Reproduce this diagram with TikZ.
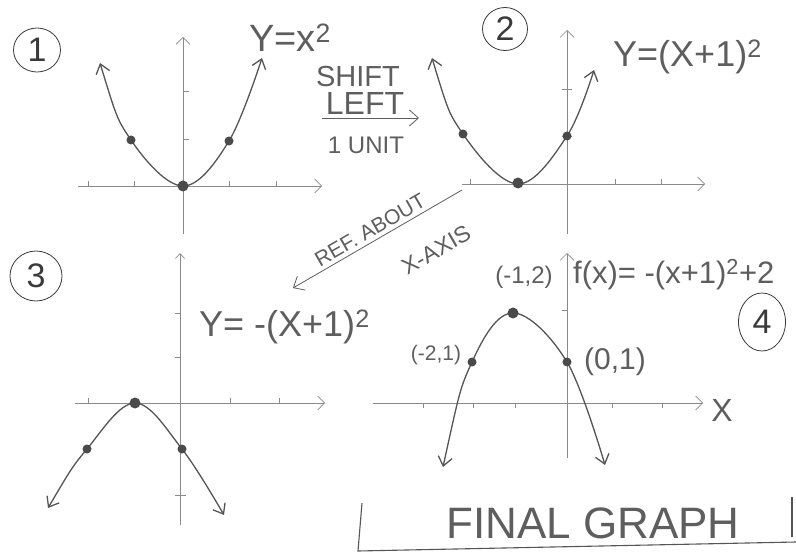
\documentclass[tikz,border=0pt]{standalone}
\usepackage{fontspec}
\setmainfont{Liberation Sans}
\usetikzlibrary{arrows.meta,shapes.geometric}
\definecolor{axisgray}{HTML}{8A8A8A}
\definecolor{curvegray}{HTML}{555555}
\definecolor{dotgray}{HTML}{4A4A4A}
\definecolor{textgray}{HTML}{5E5E5E}
\definecolor{numgray}{HTML}{3A3A3A}
\begin{document}
\begin{tikzpicture}[x=1pt,y=-1pt,
  axis/.style={draw=axisgray, line width=0.7pt},
  axarrow/.style={axis, -{Straight Barb[length=7pt,width=14pt]}},
  curve/.style={draw=curvegray, line width=1.3pt, line join=round,
    {Straight Barb[length=9pt,width=14pt]}-{Straight Barb[length=9pt,width=14pt]}},
  dot/.style={circle, fill=dotgray, inner sep=0pt, minimum size=9pt},
  bigdot/.style={dot, minimum size=11pt},
  lbl/.style={text=textgray, inner sep=0pt},
  numbox/.style={ellipse, draw=numgray, line width=0.8pt, inner sep=0pt, text=numgray, font=\fontsize{34}{34}\selectfont},
  note/.style={draw=textgray, line width=0.8pt},
  notearrow/.style={note, -{Straight Barb[length=9pt,width=16pt]}}
]
\fill[white] (0,0) rectangle (796,556);
\useasboundingbox (0,0) rectangle (796,556);

% ---------- Graph 1 ----------
\coordinate (g1xl) at (78,186); \coordinate (g1xr) at (322,186);
\coordinate (g1yb) at (183,234); \coordinate (g1yt) at (183,37);
\draw[axarrow] (g1xl) -- (g1xr);
\draw[axarrow] (g1yb) -- (g1yt);
\foreach \t in {88,134,229,276} \draw[axis] (\t,186) -- ++(0,-5);
\foreach \t in {91,139} \draw[axis] (183,\t) -- ++(6,0);
\draw[curve] plot[smooth, tension=0.6] coordinates {(100,63) (131,140) (183,186) (229,141) (262,58)};
\node[bigdot] (g1v) at (183,186) {};
\node[dot] (g1a) at (131,140) {};
\node[dot] (g1b) at (229,141) {};
\node[lbl, anchor=base west, font=\fontsize{38}{38}\selectfont] (eq1) at (249,52) {Y=x\textsuperscript{2}};
\node[numbox, minimum width=47pt, minimum height=44pt] (n1) at (37,50) {1};

% ---------- Graph 2 ----------
\coordinate (g2xl) at (462,184); \coordinate (g2xr) at (705,184);
\coordinate (g2yb) at (567,234); \coordinate (g2yt) at (567,30);
\draw[axarrow] (g2xl) -- (g2xr);
\draw[axarrow] (g2yb) -- (g2yt);
\foreach \t in {470,615,661} \draw[axis] (\t,184) -- ++(0,-5);
\foreach \t in {89,136} \draw[axis] (562,\t) -- ++(10,0);
\draw[curve] plot[smooth, tension=0.6] coordinates {(432,58) (463,134) (518,184) (567,136) (594,70)};
\node[dot] (g2a) at (463,134) {};
\node[bigdot] (g2v) at (518,183) {};
\node[dot] (g2b) at (567,136) {};
\node[lbl, anchor=base west, font=\fontsize{36}{36}\selectfont] (eq2) at (613,67) {Y=(X+1)\textsuperscript{2}};
\node[numbox, minimum width=45pt, minimum height=43pt] (n2) at (505,29) {2};

% ---------- Shift note ----------
\node[lbl, font=\fontsize{29}{29}\selectfont] (s1) at (358,77) {SHIFT};
\node[lbl, font=\fontsize{32}{32}\selectfont] (s2) at (365,103) {LEFT};
\node[lbl, font=\fontsize{24}{24}\selectfont] (s3) at (366,145) {1 UNIT};
\coordinate (sa) at (322,118); \coordinate (sb) at (419,118);
\draw[notearrow] (sa) -- (sb);

% ---------- Reflect note ----------
\coordinate (ra) at (462,190); \coordinate (rb) at (293,288);
\draw[notearrow] (ra) -- (rb);
\node[lbl, rotate=30, font=\fontsize{21}{21}\selectfont] (r1) at (370,230) {REF. ABOUT};
\node[lbl, rotate=30, font=\fontsize{23}{23}\selectfont] (r2) at (436,250) {X-AXIS};

% ---------- Graph 3 ----------
\coordinate (g3xl) at (75,403); \coordinate (g3xr) at (325,403);
\coordinate (g3yb) at (180,525); \coordinate (g3yt) at (180,253);
\draw[axarrow] (g3xl) -- (g3xr);
\draw[axis, -{Straight Barb[length=5pt,width=9pt]}] (g3yb) -- (g3yt);
\foreach \t in {88,230,279} \draw[axis] (\t,403) -- ++(0,-5);
\foreach \t in {313,357} \draw[axis] (180,\t) -- ++(-5,0);
\draw[axis, line width=1pt] (175,495) -- (186,495);
\draw[curve] plot[smooth, tension=0.6] coordinates {(48,508) (87,449) (135,403) (182,449) (224,515)};
\node[bigdot] (g3v) at (135,403) {};
\node[dot] (g3a) at (87,449) {};
\node[dot] (g3b) at (182,449) {};
\node[lbl, anchor=base west, font=\fontsize{36}{36}\selectfont] (eq3) at (199,337) {Y= -(X+1)\textsuperscript{2}};
\node[numbox, minimum width=52pt, minimum height=50pt] (n3) at (36,276) {3};

% ---------- Graph 4 ----------
\coordinate (g4xl) at (373,403); \coordinate (g4xr) at (703,403);
\coordinate (g4yb) at (567,458); \coordinate (g4yt) at (567,253);
\draw[axarrow] (g4xl) -- (g4xr);
\draw[axarrow] (g4yb) -- (g4yt);
\foreach \t in {423,473,515,612,662} \draw[axis] (\t,403) -- ++(0,5);
\draw[axis] (567,310) -- ++(-5,0);
\draw[curve] plot[smooth, tension=0.6] coordinates {(443,467) (472,362) (513,313) (567,362) (605,465)};
\node[bigdot] (g4v) at (513,313) {};
\node[dot] (g4a) at (472,362) {};
\node[dot] (g4b) at (567,362) {};
\node[lbl, font=\fontsize{24}{24}\selectfont] (p1) at (524,277) {(-1,2)};
\node[lbl, font=\fontsize{21}{21}\selectfont] (p2) at (436,355) {(-2,1)};
\node[lbl, font=\fontsize{30}{30}\selectfont] (p3) at (615,362) {(0,1)};
\node[lbl, font=\fontsize{32}{32}\selectfont] (xl) at (722,410) {X};
\node[lbl, anchor=base west, font=\fontsize{31}{31}\selectfont] (eq4) at (573,284) {f(x)= -(x+1)\textsuperscript{2}+2};
\node[numbox, minimum width=47pt, minimum height=58pt] (n4) at (762,322) {4};

% ---------- Final graph bracket ----------
\node[lbl, font=\fontsize{44}{44}\selectfont] (fg) at (593,523) {FINAL GRAPH};
\coordinate (b1) at (362,503); \coordinate (b2) at (358,551);
\coordinate (b3) at (796,542); \coordinate (b4) at (792,497); \coordinate (b5) at (792,537);
\draw[note, line width=1.1pt, draw=curvegray] (b1) -- (b2) -- (b3);
\draw[note, line width=1.1pt, draw=curvegray] (b4) -- (b5);
\end{tikzpicture}
\end{document}
